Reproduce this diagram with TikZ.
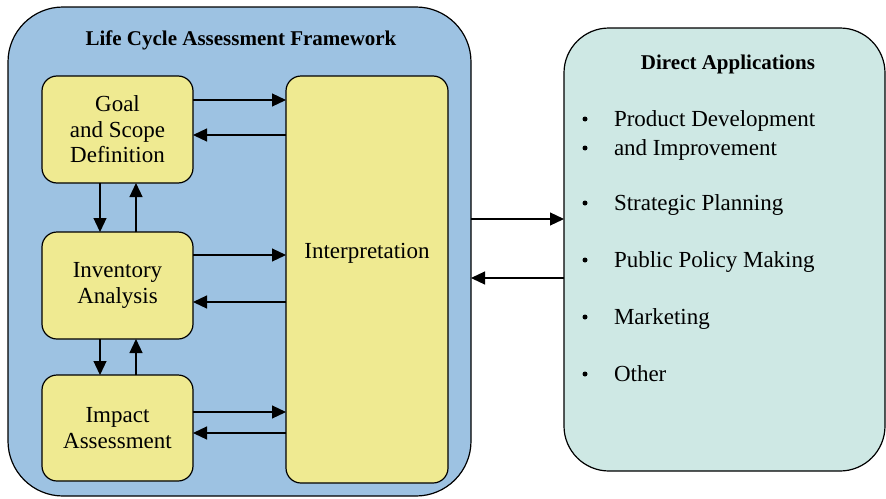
\documentclass[tikz,border=0pt]{standalone}
\usepackage{fontspec}
\setmainfont{Liberation Serif}
\usetikzlibrary{arrows.meta}
\definecolor{lcablue}{RGB}{157,194,226}
\definecolor{boxyellow}{RGB}{239,234,145}
\definecolor{appteal}{RGB}{206,232,228}
\begin{document}
\begin{tikzpicture}[x=1pt,y=-1pt,
  every node/.style={inner sep=0pt, outer sep=0pt},
  outerbox/.style={draw, line width=1.2pt, rectangle, fill=lcablue, rounded corners=55pt},
  appbox/.style={draw, line width=1.2pt, rectangle, fill=appteal, rounded corners=45pt},
  stagebox/.style={draw, line width=1.2pt, rectangle, fill=boxyellow, rounded corners=15pt,
    align=center, font=\fontsize{23}{25.5}\selectfont},
  titletext/.style={font=\fontsize{21}{25}\selectfont\bfseries, anchor=base},
  itemtext/.style={font=\fontsize{23}{25.5}\selectfont, anchor=base west},
  arr/.style={line width=1.2pt, -{Triangle[length=14pt,width=13pt]}}
]
\useasboundingbox (0,0) rectangle (886,498);

% main containers
\node[outerbox, minimum width=463pt, minimum height=489pt] (lca) at (239.5,251.5) {};
\node[appbox, minimum width=321pt, minimum height=443pt] (apps) at (724.5,249.5) {};

\node[titletext] (lcatitle) at (241,45) {Life Cycle Assessment Framework};
\node[titletext] (appstitle) at (728,69) {Direct Applications};

% stages
\node[stagebox, minimum width=151pt, minimum height=107pt] (goal) at (117.5,129.5) {Goal\\and Scope\\Definition};
\node[stagebox, minimum width=151pt, minimum height=107pt] (inv) at (117.5,285.5) {Inventory\\Analysis};
\node[stagebox, minimum width=151pt, minimum height=106pt] (imp) at (117.5,428) {Impact\\Assessment};
\node[stagebox, minimum width=162pt, minimum height=407pt] (interp) at (367,279.5) {};
\node[itemtext, anchor=base] (interptext) at (367,258) {Interpretation};

% horizontal arrows stages <-> interpretation
\draw[arr] (goal.east |- 0,100) -- (interp.west |- 0,100);
\draw[arr] (interp.west |- 0,135) -- (goal.east |- 0,135);
\draw[arr] (inv.east |- 0,255) -- (interp.west |- 0,255);
\draw[arr] (interp.west |- 0,302) -- (inv.east |- 0,302);
\draw[arr] (imp.east |- 0,412) -- (interp.west |- 0,412);
\draw[arr] (interp.west |- 0,433) -- (imp.east |- 0,433);

% vertical arrows between stages
\draw[arr] (goal.south -| 100,0) -- (inv.north -| 100,0);
\draw[arr] (inv.north -| 136,0) -- (goal.south -| 136,0);
\draw[arr] (inv.south -| 100,0) -- (imp.north -| 100,0);
\draw[arr] (imp.north -| 136,0) -- (inv.south -| 136,0);

% arrows between framework and applications
\draw[arr] (lca.east |- 0,219) -- (apps.west |- 0,219);
\draw[arr] (apps.west |- 0,278) -- (lca.east |- 0,278);

% application list
\foreach \yy in {119,148,203,260,317,374} \fill (585,\yy) circle (2.5pt);
\node[itemtext] (i1) at (614,126) {Product Development};
\node[itemtext] (i2) at (614,155) {and Improvement};
\node[itemtext] (i3) at (614,210) {Strategic Planning};
\node[itemtext] (i4) at (614,267) {Public Policy Making};
\node[itemtext] (i5) at (614,324) {Marketing};
\node[itemtext] (i6) at (614,381) {Other};
\end{tikzpicture}
\end{document}
